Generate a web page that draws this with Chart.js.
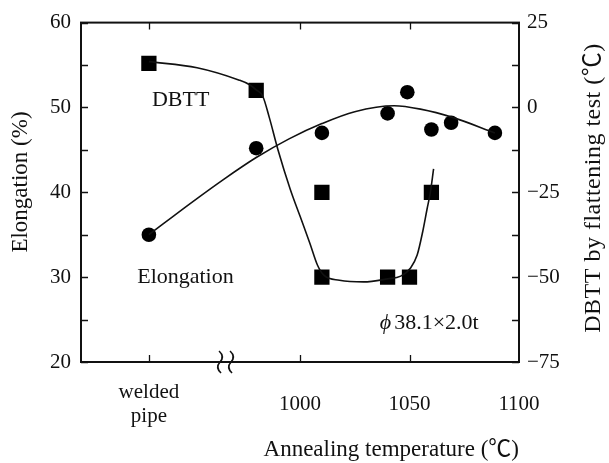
<!DOCTYPE html>
<html><head><meta charset="utf-8">
<script src="https://cdn.jsdelivr.net/npm/chart.js@4/dist/chart.umd.min.js"></script>
<style>html,body{margin:0;padding:0;background:#fff;}#wrap{width:609px;height:463px;}</style>
</head><body><div id="wrap"><canvas id="c" width="609" height="463"></canvas></div>
<script>
// ---- data ----
const elongTemps  = [931, 980, 1010, 1040, 1049, 1060, 1069, 1089];
const elongValues = [35.0, 45.2, 47.0, 49.3, 51.8, 47.4, 48.2, 47.0];
const dbttTemps   = [931, 980, 1010, 1010, 1040, 1050, 1060];
const dbttValues  = [13, 5, -25, -50, -50, -50, -25];
// fitted curves
const elongCurveTemps  = [931, 950, 965, 980, 995, 1010, 1025, 1043, 1055, 1070, 1089];
const elongCurveValues = [35.0, 38.7, 41.5, 44.1, 46.3, 48.1, 49.5, 50.2, 49.8, 48.8, 47.0];
const dbttCurveTemps  = [931, 953, 972, 977, 980, 983, 986, 990, 995.5, 1000, 1004.5, 1008, 1011, 1018, 1029, 1040, 1046, 1050.5, 1053.5, 1056, 1058, 1059.5, 1061];
const dbttCurveValues = [13.5, 11.7, 8.1, 6.7, 5.2, 3.3, -3, -12.6, -24, -32, -40, -46.5, -49.5, -50.9, -51.4, -50.5, -49.7, -47.3, -43.5, -36.7, -30, -25.1, -18.1];
// axis ticks
const xTickValues = [931, 1000, 1050, 1100];
const xTickLabels = [['welded', 'pipe'], '1000', '1050', '1100'];
const xMarkValues = [931, 1000, 1050];
const leftTickLabels = [20, 30, 40, 50, 60];
const leftMarkValues = [20, 25, 30, 35, 40, 45, 50, 55, 60];
const rightTickLabels = [-75, -50, -25, 0, 25];
const rightMarkValues = [-75, -62.5, -50, -37.5, -25, -12.5, 0, 12.5, 25];
const xBreakValue = 966;
const xTitle = 'Annealing temperature (\u2103)';
const yTitle = 'Elongation (%)';
const y2Title = 'DBTT by flattening test (\u2103)';
const notes = [
  {text: 'DBTT', x: 945.5, y: 50.85, italicFirst: false},
  {text: 'Elongation', x: 947.7, y: 30.05, italicFirst: false},
  {text: '38.1\u00d72.0t', x: 1059, y: 24.55, italicFirst: true}
];

const FONT = "'Liberation Serif', 'Noto Sans CJK JP', serif";
const INK = '#111';

const zip = (xs, ys) => xs.map((x, i) => ({x: x, y: ys[i]}));

const decor = {
  id: 'decor',
  afterDraw(chart) {
    const ctx = chart.ctx, a = chart.chartArea;
    const sx = chart.scales.x, sy = chart.scales.y, sy2 = chart.scales.y2;
    ctx.save();
    ctx.strokeStyle = INK; ctx.fillStyle = INK;
    // frame
    ctx.lineWidth = 2;
    ctx.strokeRect(a.left, a.top, a.right - a.left, a.bottom - a.top);
    // inward tick marks
    ctx.lineWidth = 1.3;
    const tl = 7;
    ctx.beginPath();
    xMarkValues.forEach(v => {
      const px = Math.round(sx.getPixelForValue(v)) + 0.5;
      ctx.moveTo(px, a.bottom); ctx.lineTo(px, a.bottom - tl);
      ctx.moveTo(px, a.top); ctx.lineTo(px, a.top + tl);
    });
    leftMarkValues.forEach(v => {
      const py = Math.round(sy.getPixelForValue(v)) + 0.5;
      ctx.moveTo(a.left, py); ctx.lineTo(a.left + tl, py);
    });
    rightMarkValues.forEach(v => {
      const py = Math.round(sy2.getPixelForValue(v)) + 0.5;
      ctx.moveTo(a.right, py); ctx.lineTo(a.right - tl, py);
    });
    ctx.stroke();
    // axis break mark
    const bx = sx.getPixelForValue(xBreakValue);
    ctx.lineWidth = 1.6;
    [-5.5, 5.5].forEach(d => {
      const x0 = bx + d, t = a.bottom - 11;
      ctx.beginPath();
      ctx.moveTo(x0 - 1, t);
      ctx.quadraticCurveTo(x0 + 5, t + 5.5, x0, t + 11);
      ctx.quadraticCurveTo(x0 - 5, t + 16.5, x0 + 1, t + 22);
      ctx.stroke();
    });
    // annotations
    ctx.font = '22px ' + FONT;
    ctx.textBaseline = 'middle';
    notes.forEach(n => {
      const px = sx.getPixelForValue(n.x), py = sy.getPixelForValue(n.y);
      if (n.italicFirst) {
        ctx.font = 'italic 22px ' + FONT;
        const phi = '\u03d5';
        const w1 = ctx.measureText(phi).width + 3;
        ctx.font = '22px ' + FONT;
        const w2 = ctx.measureText(n.text).width;
        const left = px - (w1 + w2) / 2;
        ctx.textAlign = 'left';
        ctx.font = 'italic 22px ' + FONT;
        ctx.fillText(phi, left, py);
        ctx.font = '22px ' + FONT;
        ctx.fillText(n.text, left + w1, py);
      } else {
        ctx.textAlign = 'center';
        ctx.fillText(n.text, px, py);
      }
    });
    // axis titles
    ctx.font = '23px ' + FONT;
    ctx.textAlign = 'right';
    ctx.fillText(xTitle, a.right, 450);
    ctx.textAlign = 'center';
    ctx.save();
    ctx.translate(21, 182); ctx.rotate(-Math.PI / 2);
    ctx.fillText(yTitle, 0, 0);
    ctx.restore();
    ctx.save();
    ctx.font = '24px ' + FONT;
    try { ctx.letterSpacing = '0.5px'; } catch (e) {}
    ctx.translate(594, 188); ctx.rotate(-Math.PI / 2);
    ctx.fillText(y2Title, 0, 0);
    ctx.restore();
    ctx.restore();
  }
};

new Chart(document.getElementById('c'), {
  type: 'scatter',
  data: {
    datasets: [
      {label: 'Elongation fit', data: zip(elongCurveTemps, elongCurveValues), yAxisID: 'y', showLine: true,
       borderColor: INK, borderWidth: 1.6, pointRadius: 0, cubicInterpolationMode: 'monotone', fill: false},
      {label: 'DBTT fit', data: zip(dbttCurveTemps, dbttCurveValues), yAxisID: 'y2', showLine: true,
       borderColor: INK, borderWidth: 1.6, pointRadius: 0, cubicInterpolationMode: 'monotone', fill: false},
      {label: 'Elongation', data: zip(elongTemps, elongValues), yAxisID: 'y', pointStyle: 'circle',
       pointRadius: 7.3, backgroundColor: '#000', borderColor: '#000', borderWidth: 0},
      {label: 'DBTT', data: zip(dbttTemps, dbttValues), yAxisID: 'y2', pointStyle: 'rect',
       pointRadius: 10.8, backgroundColor: '#000', borderColor: '#000', borderWidth: 0}
    ]
  },
  options: {
    responsive: false, animation: false, devicePixelRatio: 1,
    layout: {padding: {top: 17, left: 0, right: 0, bottom: 0}},
    plugins: {legend: {display: false}, tooltip: {enabled: false}},
    scales: {
      x: {
        type: 'linear', position: 'bottom', min: 900, max: 1100,
        afterFit: s => { s.height = 101; },
        afterBuildTicks: s => { s.ticks = xTickValues.map(v => ({value: v})); },
        grid: {display: false, drawTicks: false},
        border: {display: false},
        ticks: {
          autoSkip: false, maxRotation: 0, padding: 30, crossAlign: 'center', color: INK,
          font: {family: FONT, size: 21, lineHeight: 1.17},
          callback: (v) => { const i = xTickValues.indexOf(v); return i >= 0 ? xTickLabels[i] : ''; }
        }
      },
      y: {
        type: 'linear', position: 'left', min: 20, max: 60,
        afterFit: s => { s.width = 81; },
        afterBuildTicks: s => { s.ticks = leftTickLabels.map(v => ({value: v})); },
        grid: {display: false, drawTicks: false}, border: {display: false},
        ticks: {padding: 10, color: INK, font: {family: FONT, size: 21}}
      },
      y2: {
        type: 'linear', position: 'right', min: -75, max: 25,
        afterFit: s => { s.width = 90; },
        afterBuildTicks: s => { s.ticks = rightTickLabels.map(v => ({value: v})); },
        grid: {display: false, drawTicks: false}, border: {display: false},
        ticks: {padding: 8, color: INK, font: {family: FONT, size: 21},
          callback: v => v < 0 ? '\u2212' + Math.abs(v) : String(v)}
      }
    }
  },
  plugins: [decor]
});
</script></body></html>
